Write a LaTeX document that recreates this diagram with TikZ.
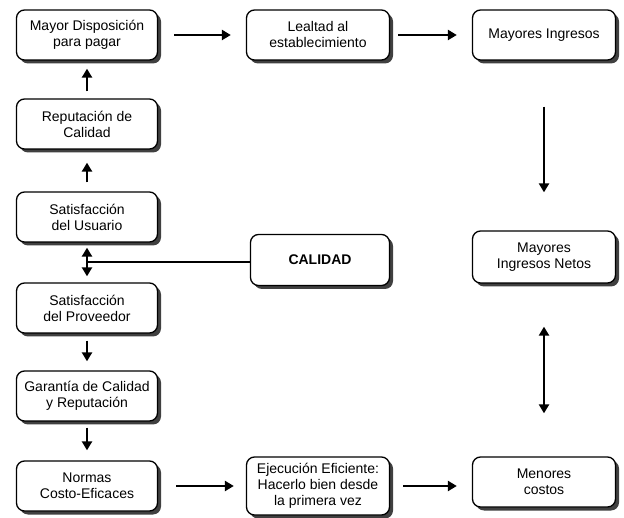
\documentclass[tikz,border=0pt]{standalone}
\usepackage{fontspec}
\setmainfont{Liberation Sans}
\usetikzlibrary{arrows.meta,shadows}
\begin{document}
\begin{tikzpicture}[x=1pt,y=-1pt,
  box/.style={draw=black, line width=1.3pt, fill=white, rounded corners=8pt,
    minimum width=141pt, minimum height=50pt, align=center, inner sep=1pt,
    font=\fontsize{14}{16}\selectfont,
    drop shadow={shadow xshift=3.5pt, shadow yshift=-3.5pt, fill=black!75, opacity=1}},
  arr/.style={line width=2.6pt, -{Triangle[length=9pt,width=10pt]}},
  darr/.style={line width=2.6pt, {Triangle[length=9pt,width=10pt]}-{Triangle[length=9pt,width=10pt]}},
  plain/.style={line width=2.6pt}]
\useasboundingbox[fill=white] (0,0) rectangle (624,518);

\node[box] (disp) at (87,35) {Mayor Disposición\\para pagar};
\node[box, minimum width=143pt] (leal) at (318,35) {Lealtad al\\establecimiento};
\node[box, minimum width=143pt] (ingr) at (544,35) {Mayores Ingresos};
\node[box] (rep) at (87,124) {Reputación de\\Calidad};
\node[box] (usu) at (87,217) {Satisfacción\\del Usuario};
\node[box] (prov) at (87,308) {Satisfacción\\del Proveedor};
\node[box] (gar) at (87,396) {Garantía de Calidad\\y Reputación};
\node[box] (norm) at (87,486) {Normas\\Costo-Eficaces};
\node[box, minimum width=143pt, minimum height=58pt] (ejec) at (318,486) {Ejecución Eficiente:\\Hacerlo bien desde\\la primera vez};
\node[box, minimum width=143pt] (meno) at (544,482) {Menores\\costos};
\node[box, minimum width=139pt, minimum height=51pt, font=\fontsize{14}{16}\selectfont\bfseries] (cal) at (320,260) {CALIDAD};
\node[box, minimum width=143pt, minimum height=52pt] (neto) at (544,257) {Mayores\\Ingresos Netos};

\draw[arr, shorten <=16pt, shorten >=15pt] (disp.east) -- (disp.east -| leal.west);
\draw[arr, shorten <=8pt, shorten >=15pt] (leal.east) -- (leal.east -| ingr.west);
\draw[arr, shorten <=7pt, shorten >=8pt] (rep.north) -- (disp.south);
\draw[arr, shorten <=9pt, shorten >=13pt] (usu.north) -- (rep.south);
\draw[darr, shorten <=5pt, shorten >=6pt] (usu.south) -- (prov.north);
\coordinate (j) at ([yshift=-2pt]cal.west -| usu.south);
\draw[plain] ([yshift=-2pt]cal.west) -- (j);
\draw[arr, shorten <=7pt, shorten >=9pt] (prov.south) -- (gar.north);
\draw[arr, shorten <=6pt, shorten >=10pt] (gar.south) -- (norm.north);
\draw[arr, shorten <=18pt, shorten >=12pt] (norm.east) -- (norm.east -| ejec.west);
\draw[arr, shorten <=13pt, shorten >=15pt] (ejec.east) -- (ejec.east -| meno.west);
\draw[arr, shorten <=46pt, shorten >=38pt] (ingr.south) -- (neto.north);
\draw[darr, shorten <=43pt, shorten >=43pt] (neto.south) -- (meno.north);
\end{tikzpicture}
\end{document}
